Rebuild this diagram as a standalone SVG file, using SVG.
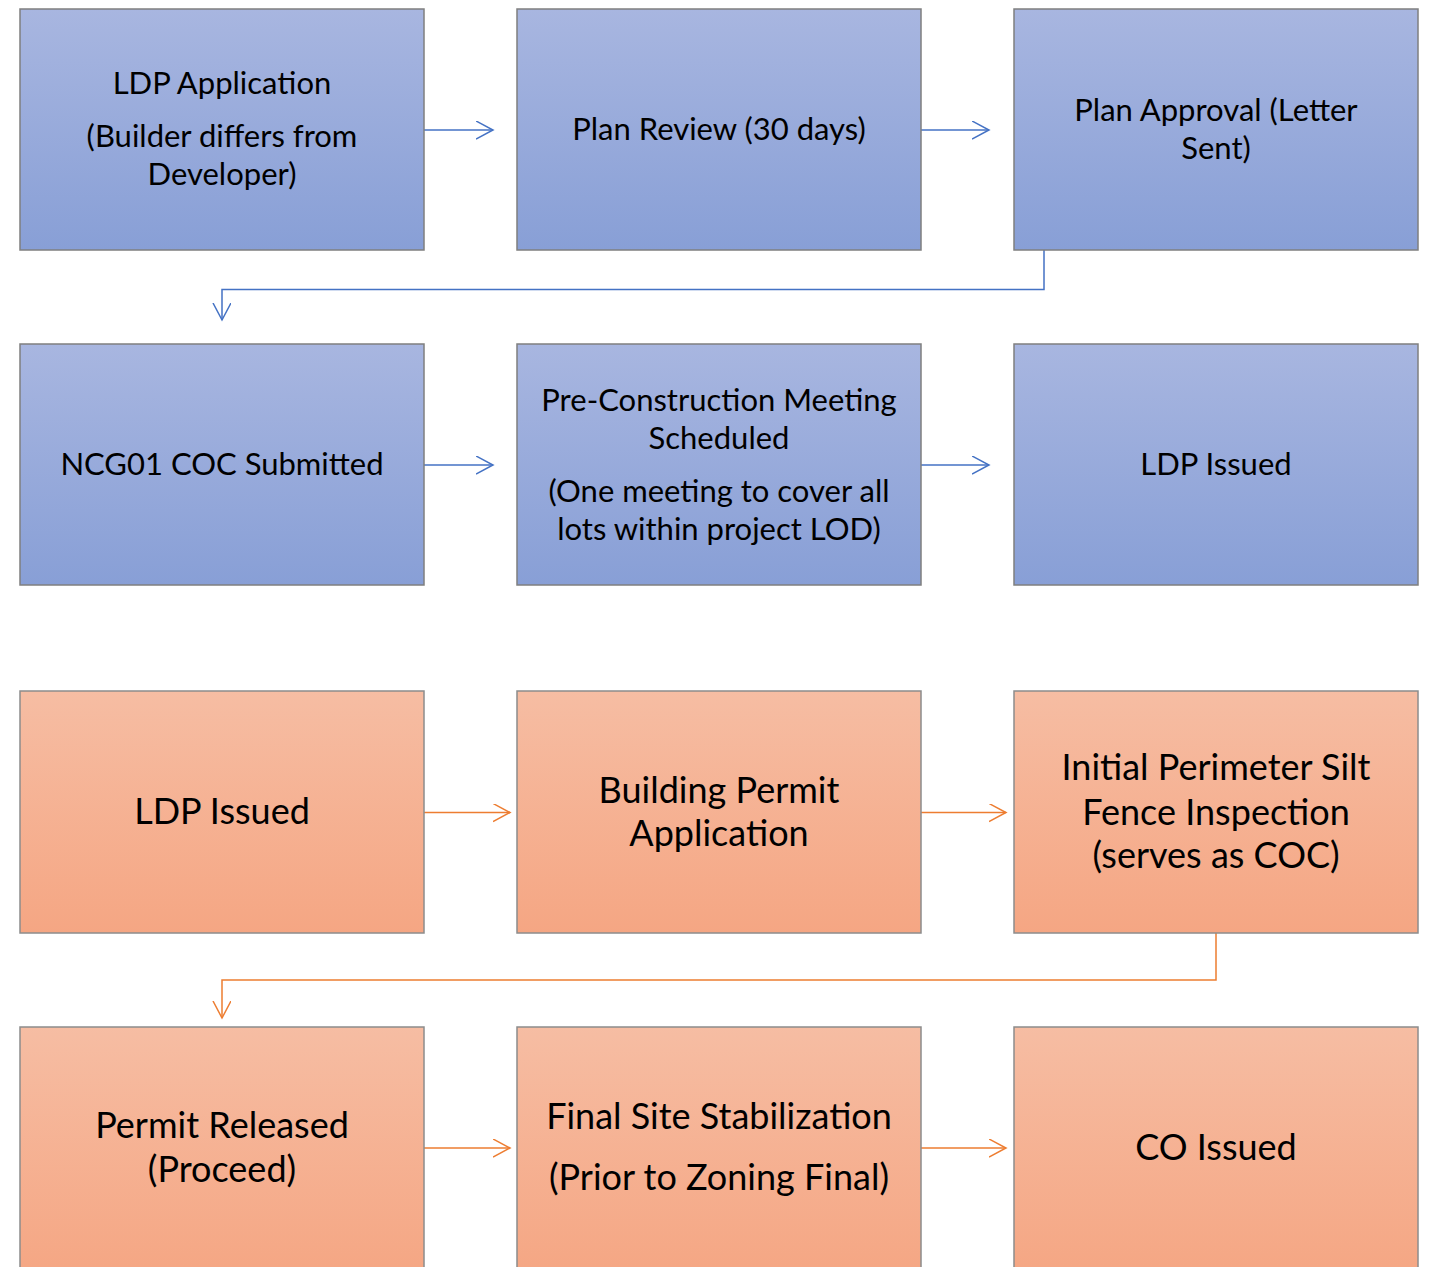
<svg xmlns="http://www.w3.org/2000/svg" width="1430" height="1267" viewBox="0 0 1430 1267">
<defs>
<linearGradient id="gb" x1="0" y1="0" x2="0" y2="1"><stop offset="0" stop-color="#A8B6E0"/><stop offset="1" stop-color="#889FD6"/></linearGradient>
<linearGradient id="go" x1="0" y1="0" x2="0" y2="1"><stop offset="0" stop-color="#F6BDA3"/><stop offset="1" stop-color="#F5A683"/></linearGradient>
<marker id="ab" markerWidth="20" markerHeight="20" refX="17" refY="9" orient="auto" markerUnits="userSpaceOnUse"><path d="M0,0 L17,9 L0,18" fill="none" stroke="#4472C4" stroke-width="1.5"/></marker>
<marker id="ao" markerWidth="20" markerHeight="20" refX="17" refY="9" orient="auto" markerUnits="userSpaceOnUse"><path d="M0,0 L17,9 L0,18" fill="none" stroke="#ED7D31" stroke-width="1.5"/></marker>
<style>
.b{fill:url(#gb);stroke:#7F7F7F;stroke-width:1.5}
.o{fill:url(#go);stroke:#8C8C8C;stroke-width:1.5}
text{font-family:Lato,"Open Sans",sans-serif;fill:#000;text-anchor:middle;dominant-baseline:central}
.t1{font-size:31px}
.t2{font-size:36px}
.cb{fill:none;stroke:#4472C4;stroke-width:1.5}
.co{fill:none;stroke:#ED7D31;stroke-width:1.5}
</style>
</defs>
<g id="connectors">
<path class="cb" d="M424,130 H493" marker-end="url(#ab)"/>
<path class="cb" d="M921,130 H989" marker-end="url(#ab)"/>
<path class="cb" d="M1044,250 V289.5 H222 V320" marker-end="url(#ab)"/>
<path class="cb" d="M424,465 H493" marker-end="url(#ab)"/>
<path class="cb" d="M921,465 H989" marker-end="url(#ab)"/>
<path class="co" d="M424,812.5 H510" marker-end="url(#ao)"/>
<path class="co" d="M921,812.5 H1006" marker-end="url(#ao)"/>
<path class="co" d="M1216,933 V980 H222 V1018" marker-end="url(#ao)"/>
<path class="co" d="M424,1148 H510" marker-end="url(#ao)"/>
<path class="co" d="M921,1148 H1006" marker-end="url(#ao)"/>
</g>
<g id="n1"><rect class="b" x="20" y="9" width="404" height="241"/><text class="t1" x="222" y="82">LDP Application</text><text class="t1" x="222" y="135">(Builder differs from</text><text class="t1" x="222" y="173">Developer)</text></g>
<g id="n2"><rect class="b" x="517" y="9" width="404" height="241"/><text class="t1" x="719" y="128">Plan Review (30 days)</text></g>
<g id="n3"><rect class="b" x="1014" y="9" width="404" height="241"/><text class="t1" x="1216" y="109">Plan Approval (Letter</text><text class="t1" x="1216" y="147">Sent)</text></g>
<g id="n4"><rect class="b" x="20" y="344" width="404" height="241"/><text class="t1" x="222" y="463">NCG01 COC Submitted</text></g>
<g id="n5"><rect class="b" x="517" y="344" width="404" height="241"/><text class="t1" x="719" y="399">Pre-Construction Meeting</text><text class="t1" x="719" y="437">Scheduled</text><text class="t1" x="719" y="490">(One meeting to cover all</text><text class="t1" x="719" y="528">lots within project LOD)</text></g>
<g id="n6"><rect class="b" x="1014" y="344" width="404" height="241"/><text class="t1" x="1216" y="463">LDP Issued</text></g>
<g id="n7"><rect class="o" x="20" y="691" width="404" height="242"/><text class="t2" x="222" y="810">LDP Issued</text></g>
<g id="n8"><rect class="o" x="517" y="691" width="404" height="242"/><text class="t2" x="719" y="789">Building Permit</text><text class="t2" x="719" y="832">Application</text></g>
<g id="n9"><rect class="o" x="1014" y="691" width="404" height="242"/><text class="t2" x="1216" y="766">Initial Perimeter Silt</text><text class="t2" x="1216" y="811">Fence Inspection</text><text class="t2" x="1216" y="854">(serves as COC)</text></g>
<g id="n10"><rect class="o" x="20" y="1027" width="404" height="250"/><text class="t2" x="222" y="1124">Permit Released</text><text class="t2" x="222" y="1168">(Proceed)</text></g>
<g id="n11"><rect class="o" x="517" y="1027" width="404" height="250"/><text class="t2" x="719" y="1115">Final Site Stabilization</text><text class="t2" x="719" y="1176">(Prior to Zoning Final)</text></g>
<g id="n12"><rect class="o" x="1014" y="1027" width="404" height="250"/><text class="t2" x="1216" y="1146">CO Issued</text></g>
</svg>
